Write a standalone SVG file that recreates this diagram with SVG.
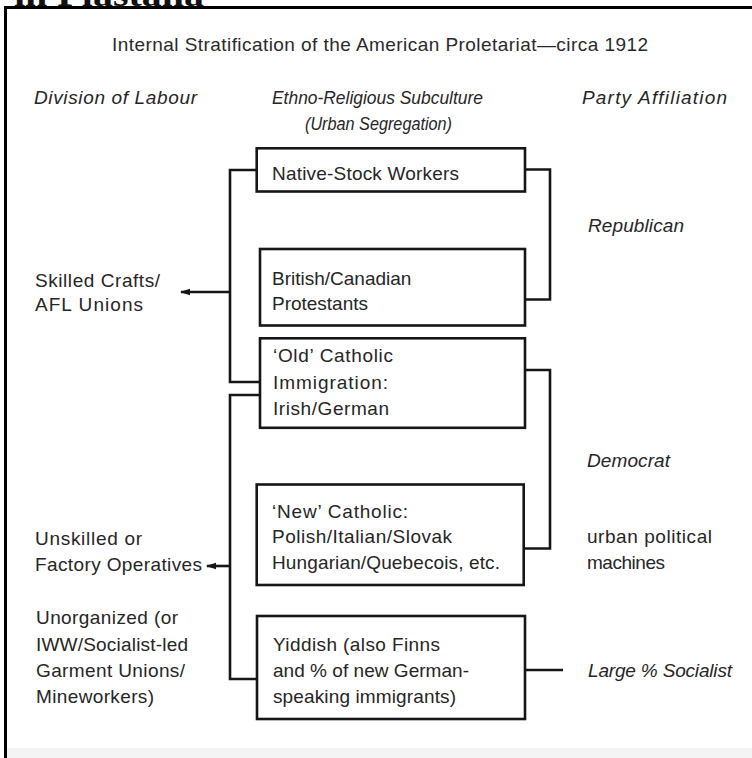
<svg xmlns="http://www.w3.org/2000/svg" width="752" height="758" viewBox="0 0 752 758">
<defs>
<marker id="arr" markerWidth="10" markerHeight="8" refX="9" refY="4" orient="auto" markerUnits="userSpaceOnUse">
<path d="M0,0.8 L10,4 L0,7.2 Z" fill="#151515"/>
</marker>
</defs>
<style>
.t{font-family:"Liberation Sans",Arial,sans-serif;font-size:19px;fill:#262626}
.i{font-family:"Liberation Sans",Arial,sans-serif;font-size:19px;font-style:italic;fill:#262626}
.ttl{font-family:"Liberation Sans",Arial,sans-serif;font-size:19px;fill:#2a2a2a}
.box{fill:#fff;stroke:#161616;stroke-width:2.6}
.ln{fill:none;stroke:#161616;stroke-width:2.6}
.frame{fill:none;stroke:#000;stroke-width:3}
</style>
<rect x="0" y="0" width="752" height="758" fill="#fff"/>
<rect x="7" y="748" width="745" height="10" fill="#f4f4f4"/>
<text x="14" y="6" textLength="190" lengthAdjust="spacingAndGlyphs" style="font-family:'Liberation Serif',serif;font-weight:bold;font-size:34px;fill:#111">in Plastana</text>
<path class="frame" d="M5.5,758 V7.5 H752"/>
<g id="title">
<text class="ttl" x="112" y="51" textLength="536" lengthAdjust="spacing">Internal Stratification of the American Proletariat—circa 1912</text>
</g>
<g id="headers">
<text class="i" x="34" y="104" textLength="163" lengthAdjust="spacing">Division of Labour</text>
<text class="i" x="272" y="104" textLength="211" lengthAdjust="spacingAndGlyphs">Ethno-Religious Subculture</text>
<text class="i" x="305" y="130" textLength="147" lengthAdjust="spacingAndGlyphs">(Urban Segregation)</text>
<text class="i" x="582" y="104" textLength="145" lengthAdjust="spacing">Party Affiliation</text>
</g>
<g id="connectors">
<path class="ln" d="M256.7,170 H230 V382 H260"/>
<path class="ln" d="M230,292 H181" marker-end="url(#arr)"/>
<path class="ln" d="M260,395 H230 V679 H257"/>
<path class="ln" d="M230,566 H207" marker-end="url(#arr)"/>
<path class="ln" d="M525,169.5 H550 V299.5 H525"/>
<path class="ln" d="M525,370 H550 V548.5 H523"/>
<path class="ln" d="M525,670 H563"/>
</g>
<g id="n-native">
<rect class="box" x="256.7" y="148.3" width="268.3" height="43.2"/>
<text class="t" x="272" y="180" textLength="187" lengthAdjust="spacing">Native-Stock Workers</text>
</g>
<g id="n-british">
<rect class="box" x="260" y="249" width="265" height="76.5"/>
<text class="t" x="272" y="285">British/Canadian</text>
<text class="t" x="272" y="310" textLength="96" lengthAdjust="spacing">Protestants</text>
</g>
<g id="n-old">
<rect class="box" x="260" y="338.3" width="265" height="89.5"/>
<text class="t" x="273" y="362" textLength="120" lengthAdjust="spacing">‘Old’ Catholic</text>
<text class="t" x="273" y="389" textLength="115" lengthAdjust="spacing">Immigration:</text>
<text class="t" x="273" y="415" textLength="116" lengthAdjust="spacing">Irish/German</text>
</g>
<g id="n-new">
<rect class="box" x="256.7" y="484.5" width="267" height="100.5"/>
<text class="t" x="272" y="518" textLength="136" lengthAdjust="spacing">‘New’ Catholic:</text>
<text class="t" x="272" y="543" textLength="180" lengthAdjust="spacing">Polish/Italian/Slovak</text>
<text class="t" x="272" y="569" textLength="228" lengthAdjust="spacing">Hungarian/Quebecois, etc.</text>
</g>
<g id="n-yiddish">
<rect class="box" x="257" y="616" width="268" height="103"/>
<text class="t" x="273" y="651" textLength="167" lengthAdjust="spacing">Yiddish (also Finns</text>
<text class="t" x="273" y="677" textLength="196" lengthAdjust="spacing">and % of new German-</text>
<text class="t" x="273" y="703" textLength="183" lengthAdjust="spacing">speaking immigrants)</text>
</g>
<g id="labour">
<text class="t" x="35" y="287" textLength="125" lengthAdjust="spacing">Skilled Crafts/</text>
<text class="t" x="35" y="311" textLength="108" lengthAdjust="spacing">AFL Unions</text>
<text class="t" x="35" y="545" textLength="107" lengthAdjust="spacing">Unskilled or</text>
<text class="t" x="35" y="571" textLength="167" lengthAdjust="spacing">Factory Operatives</text>
<text class="t" x="36" y="624" textLength="142" lengthAdjust="spacing">Unorganized (or</text>
<text class="t" x="36" y="651" textLength="152" lengthAdjust="spacing">IWW/Socialist-led</text>
<text class="t" x="36" y="677" textLength="149" lengthAdjust="spacing">Garment Unions/</text>
<text class="t" x="36" y="703" textLength="118" lengthAdjust="spacing">Mineworkers)</text>
</g>
<g id="party">
<text class="i" x="588" y="232" textLength="96" lengthAdjust="spacing">Republican</text>
<text class="i" x="587" y="467" textLength="83" lengthAdjust="spacing">Democrat</text>
<text class="t" x="587" y="543" textLength="125" lengthAdjust="spacing">urban political</text>
<text class="t" x="587" y="569" textLength="78" lengthAdjust="spacing">machines</text>
<text class="i" x="588" y="677" textLength="144" lengthAdjust="spacing">Large % Socialist</text>
</g>
</svg>
